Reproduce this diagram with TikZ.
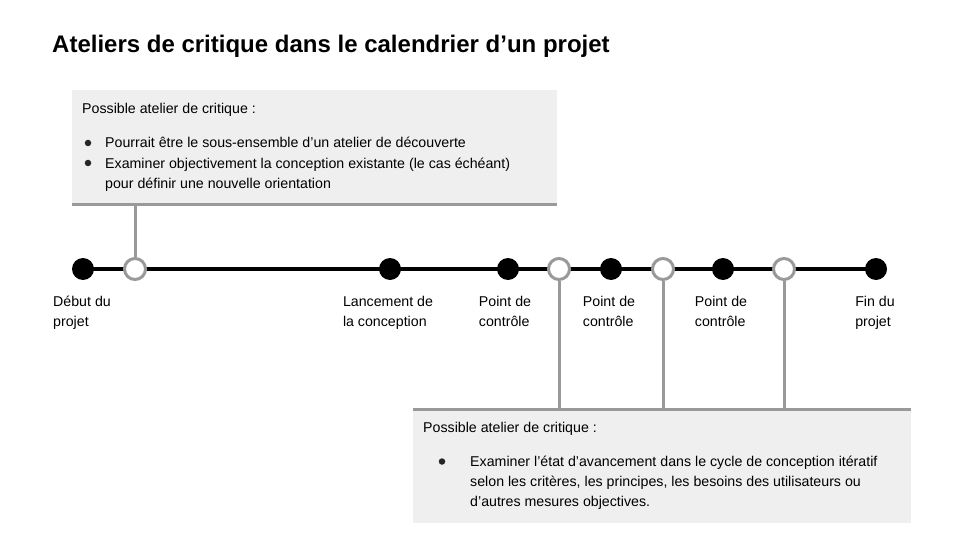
\documentclass[tikz,border=0pt]{standalone}
\usepackage{fontspec}
\setmainfont{Liberation Sans}
\definecolor{boxfill}{HTML}{EFEFEF}
\definecolor{linegray}{HTML}{999999}
\begin{document}
\begin{tikzpicture}[x=1pt,y=-1pt,
  txt/.style={inner sep=0pt,anchor=base west,font=\fontsize{14.2}{20}\selectfont,text=black},
  bul/.style={circle,fill=black!85,draw=none,minimum size=6.5pt,inner sep=0pt},
  lbl/.style={inner sep=0pt,anchor=north,align=left,font=\fontsize{14.2}{20}\selectfont},
  panel/.style={fill=boxfill,draw=none,inner sep=0pt,anchor=north west},
  rim/.style={draw=linegray,line width=3pt},
  stem/.style={draw=linegray,line width=3pt},
  fulldot/.style={circle,fill=black,draw=none,minimum size=22pt,inner sep=0pt},
  opendot/.style={circle,fill=white,draw=linegray,line width=3pt,minimum size=21pt,inner sep=0pt},
  axis/.style={draw=black,line width=4pt}]
\useasboundingbox[fill=white] (0,0) rectangle (960,540);

\node[inner sep=0pt,anchor=base west,font=\fontsize{24}{28}\bfseries] (title) at (52,52.5) {Ateliers de critique dans le calendrier d’un projet};

% top panel
\node[panel,minimum width=485pt,minimum height=114pt] (toppanel) at (72,90) {};
\draw[rim] (toppanel.south west) -- (toppanel.south east);
\node[txt] (t0) at (82,113.5) {Possible atelier de critique :};
\node[bul] (b1) at (88,143) {};
\node[txt] (t1) at (105,148) {Pourrait être le sous-ensemble d’un atelier de découverte};
\node[bul] (b2) at (88,163) {};
\node[txt] (t2) at (105,168) {Examiner objectivement la conception existante (le cas échéant)};
\node[txt] (t3) at (105,188) {pour définir une nouvelle orientation};

% bottom panel
\node[panel,minimum width=498pt,minimum height=114pt] (botpanel) at (413,409) {};
\draw[rim] (botpanel.north west) -- (botpanel.north east);
\node[txt] (u0) at (423,432) {Possible atelier de critique :};
\node[bul] (c1) at (442,461.5) {};
\node[txt] (u1) at (470,466) {Examiner l’état d’avancement dans le cycle de conception itératif};
\node[txt] (u2) at (470,486) {selon les critères, les principes, les besoins des utilisateurs ou};
\node[txt] (u3) at (470,506) {d’autres mesures objectives.};

% timeline
\coordinate (start) at (83,269);
\coordinate (finish) at (876,269);
\draw[axis] (start) -- (finish);

% stem ends on the panels
\coordinate (s0) at (135,204);
\coordinate (s1) at (559,409);
\coordinate (s2) at (663,409);
\coordinate (s3) at (784,409);

\node[fulldot] (d0) at (83,269) {};
\node[opendot] (o0) at (135,269) {};
\node[fulldot] (d1) at (390,269) {};
\node[fulldot] (d2) at (508,269) {};
\node[opendot] (o1) at (559,269) {};
\node[fulldot] (d3) at (611,269) {};
\node[opendot] (o2) at (663,269) {};
\node[fulldot] (d4) at (723,269) {};
\node[opendot] (o3) at (784,269) {};
\node[fulldot] (d5) at (876,269) {};

\draw[stem] (s0) -- (o0.north);
\draw[stem] (o1.south) -- (s1);
\draw[stem] (o2.south) -- (s2);
\draw[stem] (o3.south) -- (s3);

% labels
\node[lbl] (l0) at (82,292) {\strut Début du\\projet};
\node[lbl] (l1) at (388,292) {\strut Lancement de\\la conception};
\node[lbl] (l2) at (505,292) {\strut Point de\\contrôle};
\node[lbl] (l3) at (609,292) {\strut Point de\\contrôle};
\node[lbl] (l4) at (721,292) {\strut Point de\\contrôle};
\node[lbl] (l5) at (875,292) {\strut Fin du\\projet};
\end{tikzpicture}
\end{document}
